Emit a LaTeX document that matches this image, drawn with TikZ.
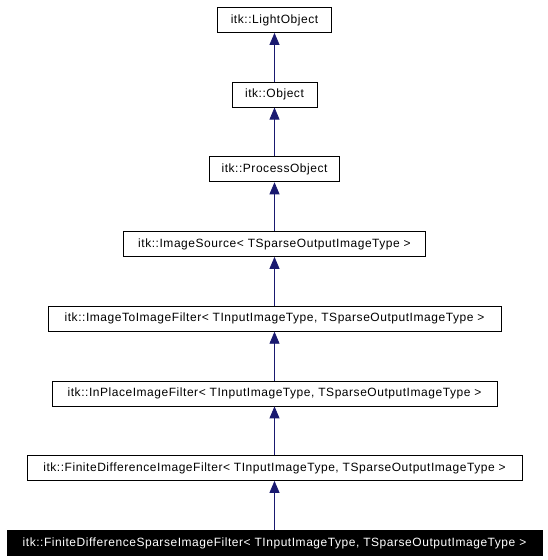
\documentclass[tikz,border=0pt]{standalone}
\usepackage{fontspec}
\setmainfont{Liberation Sans}[LetterSpace=4.5]
\usetikzlibrary{arrows.meta}
\definecolor{edgeblue}{RGB}{25,25,112}
\tikzset{
  cls/.style={draw=black, line width=0.8pt, fill=white, minimum height=25pt, inner xsep=8pt, inner ysep=0pt, font=\fontsize{12}{14}\selectfont, anchor=center},
  cur/.style={cls, fill=black, text=white},
  inh/.style={draw=edgeblue, line width=0.8pt, -{Triangle[width=10pt,length=12pt]}}
}
\begin{document}
\begin{tikzpicture}[x=1pt,y=1pt]
\useasboundingbox[fill=white] (0,0) rectangle (547,560);
\node[cls, minimum width=114pt] (n1) at (274.5,540) {itk::LightObject};
\node[cls, minimum width=85pt] (n2) at (274.5,465.3) {itk::Object};
\node[cls, minimum width=130pt] (n3) at (274.5,390.6) {itk::ProcessObject};
\node[cls, minimum width=302pt] (n4) at (274.5,316) {itk::ImageSource< TSparseOutputImageType >};
\node[cls, minimum width=453pt] (n5) at (274.5,241.2) {itk::ImageToImageFilter< TInputImageType, TSparseOutputImageType >};
\node[cls, minimum width=445pt] (n6) at (274.5,166.5) {itk::InPlaceImageFilter< TInputImageType, TSparseOutputImageType >};
\node[cls, minimum width=495pt] (n7) at (274.5,92) {itk::FiniteDifferenceImageFilter< TInputImageType, TSparseOutputImageType >};
\node[cur, minimum width=535pt] (n8) at (274.5,17) {itk::FiniteDifferenceSparseImageFilter< TInputImageType, TSparseOutputImageType >};
\draw[inh] (n2) -- (n1);
\draw[inh] (n3) -- (n2);
\draw[inh] (n4) -- (n3);
\draw[inh] (n5) -- (n4);
\draw[inh] (n6) -- (n5);
\draw[inh] (n7) -- (n6);
\draw[inh] (n8) -- (n7);
\end{tikzpicture}
\end{document}
